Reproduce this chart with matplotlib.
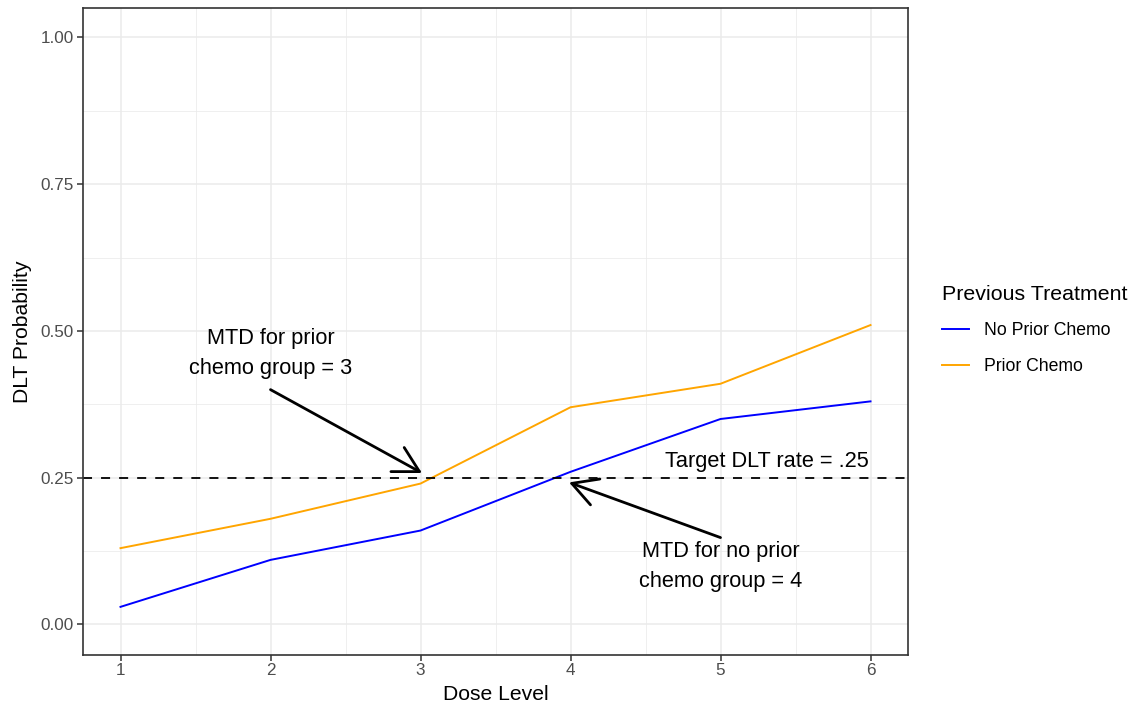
import matplotlib
matplotlib.use("Agg")
import matplotlib.pyplot as plt
from matplotlib.ticker import MultipleLocator

plt.rcParams["font.family"] = ["Liberation Sans", "DejaVu Sans"]

dose = [1, 2, 3, 4, 5, 6]
no_prior = [0.03, 0.11, 0.16, 0.26, 0.35, 0.38]
prior = [0.13, 0.18, 0.24, 0.37, 0.41, 0.51]
target = 0.25

x_ticks = [1, 2, 3, 4, 5, 6]
y_ticks = [0.00, 0.25, 0.50, 0.75, 1.00]

fig = plt.figure(figsize=(11.37, 7.04), dpi=100)
ax = fig.add_axes([0.073, 0.0696, 0.7256, 0.919])

ax.plot(dose, no_prior, color="#0000FF", lw=1.4, label="No Prior Chemo")
ax.plot(dose, prior, color="#FFA500", lw=1.4, label="Prior Chemo")
ax.axhline(target, color="black", lw=1.3, linestyle=(0, (5, 5)))

arrow = dict(arrowstyle="->,head_length=1.0,head_width=0.55", color="black", lw=2.0,
             shrinkA=0, shrinkB=0, mutation_scale=18)
ax.annotate("", xy=(3.01, 0.258), xytext=(2.0, 0.40), arrowprops=arrow)
ax.annotate("", xy=(3.99, 0.242), xytext=(5.0, 0.148), arrowprops=arrow)

ax.text(2.0, 0.462, "MTD for prior\nchemo group = 3", ha="center", va="center",
        fontsize=15.7, linespacing=1.58)
ax.text(5.0, 0.099, "MTD for no prior\nchemo group = 4", ha="center", va="center",
        fontsize=15.7, linespacing=1.58)
ax.text(5.31, 0.277, "Target DLT rate = .25", ha="center", va="center", fontsize=15.7)

ax.set_xlim(0.75, 6.25)
ax.set_ylim(-0.052, 1.05)
ax.set_xticks(x_ticks)
ax.set_yticks(y_ticks)
ax.set_yticklabels([f"{v:.2f}" for v in y_ticks])
ax.xaxis.set_minor_locator(MultipleLocator(0.5))
ax.yaxis.set_minor_locator(MultipleLocator(0.125))
ax.grid(which="major", color="#EBEBEB", lw=1.1)
ax.grid(which="minor", color="#EBEBEB", lw=0.55)
ax.set_axisbelow(True)
ax.tick_params(which="major", length=4, width=1.1, color="#333333",
               labelsize=12.3, labelcolor="#4D4D4D", pad=2.5)
ax.tick_params(axis="x", pad=2)
ax.tick_params(which="minor", length=0)
for s in ax.spines.values():
    s.set_color("#333333")
    s.set_linewidth(1.2)

ax.set_xlabel("Dose Level", fontsize=15.2, labelpad=5)
ax.set_ylabel("DLT Probability", fontsize=15.2, labelpad=6)

leg = fig.legend(loc="upper left", bbox_to_anchor=(0.8148, 0.618), frameon=False,
                 title="Previous Treatment", fontsize=12.7, title_fontsize=15.4,
                 handlelength=1.5, handletextpad=0.85, labelspacing=1.05,
                 alignment="left")

fig.savefig("out.png", dpi=100)
